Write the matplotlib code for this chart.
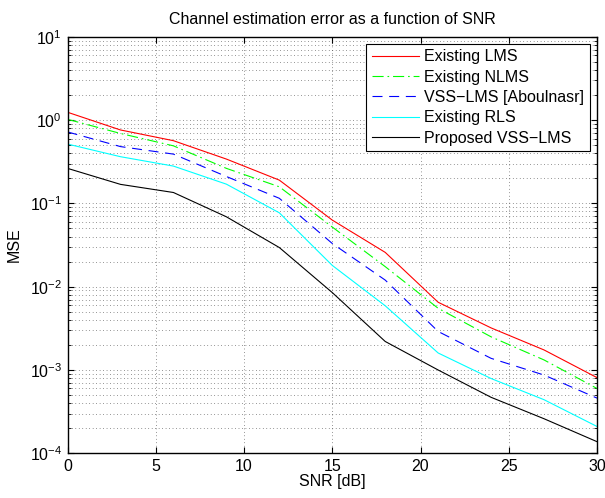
import matplotlib
matplotlib.use('Agg')
import matplotlib.pyplot as plt
from matplotlib.ticker import LogLocator, NullFormatter

plt.rcParams['font.family'] = ['Liberation Sans', 'DejaVu Sans']
plt.rcParams['font.size'] = 11.5

snr = [0, 3, 6, 9, 12, 15, 18, 21, 24, 27, 30]

mse_lms = [1.24, 0.76, 0.565, 0.34, 0.19, 0.063, 0.0258, 0.0065, 0.0032, 0.00174, 0.00081]
mse_nlms = [1.02, 0.69, 0.49, 0.263, 0.158, 0.052, 0.0174, 0.0055, 0.0025, 0.00132, 0.0006]
mse_vss = [0.72, 0.48, 0.39, 0.21, 0.115, 0.033, 0.012, 0.0029, 0.00138, 0.00087, 0.00046]
mse_rls = [0.515, 0.363, 0.28, 0.17, 0.077, 0.018, 0.0059, 0.0016, 0.00079, 0.00044, 0.00021]
mse_prop = [0.263, 0.169, 0.135, 0.069, 0.0295, 0.0085, 0.0022, 0.001, 0.00047, 0.00026, 0.000138]

labels = ['Existing LMS', 'Existing NLMS', 'VSS\u2212LMS [Aboulnasr]',
          'Existing RLS', 'Proposed VSS\u2212LMS']

fig = plt.figure(figsize=(6.05, 4.98), dpi=100)
ax = fig.add_axes([0.1116, 0.0897, 0.8752, 0.8366])

lw = 0.8
ax.semilogy(snr, mse_lms, color=(1, 0, 0), lw=lw, label=labels[0])
ax.semilogy(snr, mse_nlms, color=(0, 1, 0), lw=lw, ls=(0, (10, 3.5, 1.5, 3.5)), label=labels[1])
ax.semilogy(snr, mse_vss, color=(0, 0, 1), lw=lw, ls=(0, (9, 6)), label=labels[2])
ax.semilogy(snr, mse_rls, color=(0, 1, 1), lw=lw, label=labels[3])
ax.semilogy(snr, mse_prop, color='k', lw=lw, label=labels[4])

ax.set_xlim(0, 30)
ax.set_ylim(1e-4, 1e1)
ax.set_xticks([0, 5, 10, 15, 20, 25, 30])
ax.yaxis.set_major_locator(LogLocator(base=10, numticks=10))
ax.yaxis.set_minor_locator(LogLocator(base=10, subs=range(2, 10), numticks=20))
ax.yaxis.set_minor_formatter(NullFormatter())

ax.grid(True, which='major', axis='both', color='0.2', ls=(0, (1, 4)), lw=0.5)
ax.grid(True, which='minor', axis='y', color='0.2', ls=(0, (1, 4)), lw=0.5)

ax.tick_params(which='both', direction='in', top=True, right=True)
ax.tick_params(which='major', length=4, pad=4)
ax.tick_params(which='minor', length=2)
for s in ax.spines.values():
    s.set_linewidth(1.0)

ax.set_xlabel('SNR [dB]', labelpad=0)
ax.set_ylabel('MSE', labelpad=6)
ax.set_title('Channel estimation error as a function of SNR', fontsize=11.5, pad=9)

leg = ax.legend(loc='upper right', fancybox=False, framealpha=1, edgecolor='k',
                handlelength=3.0, handletextpad=0.3, borderaxespad=0.45,
                labelspacing=0.33, borderpad=0.35, fontsize=11.5)
leg.get_frame().set_linewidth(0.8)

fig.savefig('out.png', dpi=100)
